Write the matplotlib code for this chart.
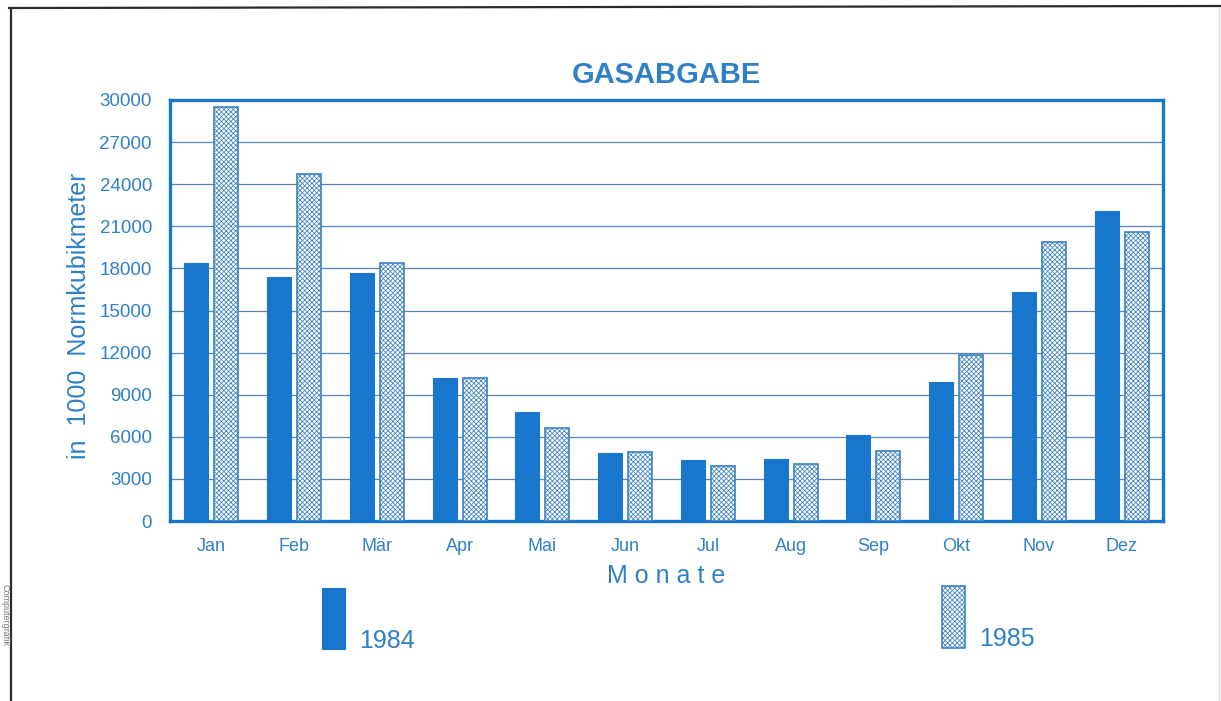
import numpy as np
import matplotlib.pyplot as plt
from matplotlib.patches import Rectangle
from matplotlib.lines import Line2D

plt.rcParams['font.family'] = ['Liberation Sans', 'DejaVu Sans']
plt.rcParams['hatch.linewidth'] = 0.55

# Monthly gas output, in 1000 standard cubic metres
months = ["Jan", "Feb", "Mär", "Apr", "Mai", "Jun",
          "Jul", "Aug", "Sep", "Okt", "Nov", "Dez"]
gas_1984 = [18400, 17400, 17700, 10200, 7800, 4850,
            4350, 4450, 6150, 9900, 16300, 22100]
gas_1985 = [29500, 24700, 18400, 10200, 6600, 4950,
            3900, 4050, 5000, 11800, 19900, 20600]
y_ticks = list(range(0, 30001, 3000))

blue = "#1877cc"
text_blue = "#2f80c6"
hatch_blue = "#3d82c0"
grid_blue = "#5687b8"

W, H = 1221, 701
fig = plt.figure(figsize=(W / 100, H / 100), dpi=100)
fig.patch.set_facecolor("white")

ax = fig.add_axes([170 / W, 1 - 521 / H, 993 / W, 421 / H])
x = np.arange(len(months))
bw = 0.29
ax.bar(x - 0.18, gas_1984, width=bw, color=blue, edgecolor=blue,
       linewidth=0.8, zorder=3)
ax.bar(x + 0.18, gas_1985, width=bw, facecolor="white",
       edgecolor=hatch_blue, hatch="xxxxxxx", linewidth=1.2, zorder=3)

ax.set_xlim(-0.5, len(months) - 0.5)
ax.set_ylim(0, 30000)
ax.set_yticks(y_ticks)
ax.set_yticklabels([str(v) for v in y_ticks])
ax.set_xticks(x)
ax.set_xticklabels(months)
ax.tick_params(length=0, labelsize=13.5, labelcolor=text_blue)
ax.tick_params(axis="y", pad=13)
ax.tick_params(axis="x", pad=12, labelsize=13)
ax.yaxis.grid(True, color=grid_blue, linewidth=0.9, zorder=0)
ax.set_axisbelow(True)
for sp in ax.spines.values():
    sp.set_color(blue)
    sp.set_linewidth(2.4)

ax.set_title("GASABGABE", fontsize=21, fontweight="bold", color=text_blue,
             pad=12)
ax.set_ylabel("in  1000  Normkubikmeter", fontsize=18, color=text_blue)
ax.yaxis.set_label_coords(-0.08, 0.487)
ax.set_xlabel("M o n a t e", fontsize=18, color=text_blue, labelpad=7)

# legend swatches below the plot
fig.patches.append(Rectangle((322 / W, 1 - 649 / H), 23 / W, 61 / H,
                             transform=fig.transFigure, facecolor=blue,
                             edgecolor=blue, linewidth=0.8))
fig.text(359 / W, 1 - 648 / H, "1984", fontsize=18, color=text_blue,
         ha="left", va="baseline")
fig.patches.append(Rectangle((942 / W, 1 - 648 / H), 23 / W, 62 / H,
                             transform=fig.transFigure, facecolor="white",
                             edgecolor=hatch_blue, hatch="xxxxxxx",
                             linewidth=1.2))
fig.text(979 / W, 1 - 646 / H, "1985", fontsize=18, color=text_blue,
         ha="left", va="baseline")

# page frame
frame = "#2b2b2b"
fig.lines.append(Line2D([9 / W, 1], [1 - 8 / H, 1 - 6 / H],
                        transform=fig.transFigure, color=frame, linewidth=1.6))
fig.lines.append(Line2D([11 / W, 11 / W], [0, 1 - 8 / H],
                        transform=fig.transFigure, color=frame, linewidth=1.6))
fig.lines.append(Line2D([1219 / W, 1219 / W], [0, 1 - 8 / H],
                        transform=fig.transFigure, color="#dddddd",
                        linewidth=1.0))
fig.text(5 / W, 1 - 615 / H, "Computergrafik", fontsize=6.5, color="#777777",
         rotation=270, ha="center", va="center")

fig.savefig("out.png", dpi=100)
